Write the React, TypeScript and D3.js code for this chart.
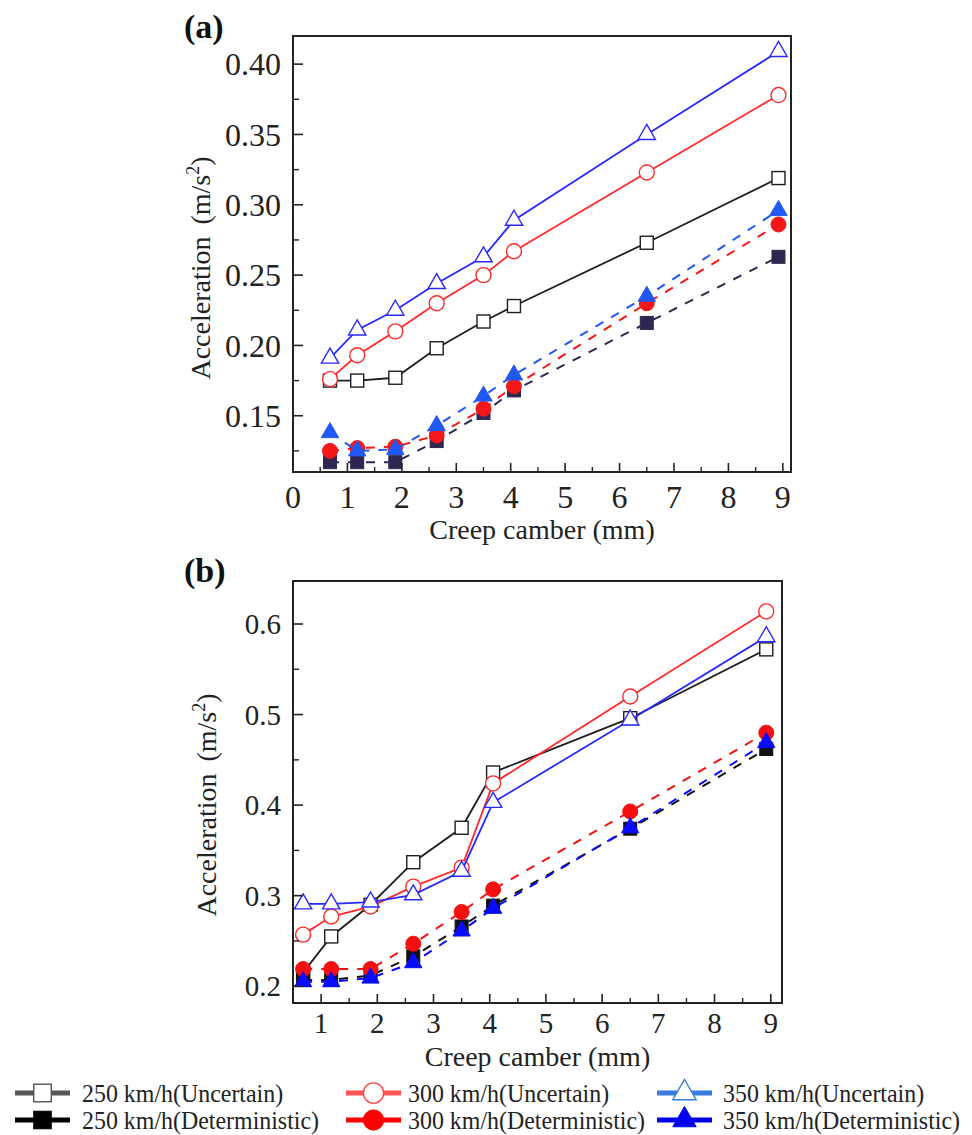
import React from "react";
import * as d3 from "d3";

// creep camber (mm), shared by both panels
const camber = [0.68, 1.18, 1.88, 2.64, 3.5, 4.06, 6.5, 8.92];

// panel (a)
const a250U = [0.175, 0.175, 0.177, 0.198, 0.217, 0.228, 0.273, 0.319];
const a300U = [0.176, 0.193, 0.21, 0.23, 0.25, 0.267, 0.323, 0.378];
const a350U = [0.191, 0.211, 0.225, 0.244, 0.263, 0.289, 0.35, 0.409];
const a250D = [0.117, 0.117, 0.117, 0.132, 0.152, 0.168, 0.216, 0.263];
const a300D = [0.125, 0.127, 0.128, 0.136, 0.155, 0.171, 0.23, 0.286];
const a350D = [0.138, 0.125, 0.126, 0.143, 0.164, 0.179, 0.235, 0.296];

// panel (b)
const b250U = [0.215, 0.255, 0.29, 0.337, 0.375, 0.436, 0.496, 0.572];
const b300U = [0.257, 0.277, 0.288, 0.31, 0.331, 0.424, 0.52, 0.614];
const b350U = [0.291, 0.291, 0.293, 0.301, 0.327, 0.403, 0.494, 0.586];
const b250D = [0.207, 0.207, 0.212, 0.233, 0.266, 0.289, 0.374, 0.462];
const b300D = [0.219, 0.219, 0.219, 0.247, 0.282, 0.307, 0.393, 0.48];
const b350D = [0.205, 0.205, 0.209, 0.226, 0.261, 0.286, 0.375, 0.469];

const aYTicks = [0.15, 0.2, 0.25, 0.3, 0.35, 0.4];
const aYMinor = [0.125, 0.175, 0.225, 0.275, 0.325, 0.375];
const aXTicks = [0, 1, 2, 3, 4, 5, 6, 7, 8, 9];
const bYTicks = [0.2, 0.3, 0.4, 0.5, 0.6];
const bYMinor = [0.25, 0.35, 0.45, 0.55];
const bXTicks = [1, 2, 3, 4, 5, 6, 7, 8, 9];
const xMinorA = [0.5, 1.5, 2.5, 3.5, 4.5, 5.5, 6.5, 7.5, 8.5];
const xMinorB = [1.5, 2.5, 3.5, 4.5, 5.5, 6.5, 7.5, 8.5];

const legendLabels = [
  "250  km/h(Uncertain)",
  "250  km/h(Deterministic)",
  "300  km/h(Uncertain)",
  "300  km/h(Deterministic)",
  "350  km/h(Uncertain)",
  "350  km/h(Deterministic)",
];

const SERIF = "'Liberation Serif', 'Times New Roman', serif";

type Shape = "square" | "circle" | "triangle";
type Series = { values: number[]; shape: Shape; color: string; filled: boolean; dashed: boolean };

function Marker({ shape, x, y, color, filled, s = 1 }: { shape: Shape; x: number; y: number; color: string; filled: boolean; s?: number }) {
  const fill = filled ? color : "white";
  const sw = filled ? 1 : 1.4;
  if (shape === "circle") {
    return <circle cx={x} cy={y} r={7.5 * s} fill={fill} stroke={color} strokeWidth={sw} />;
  }
  if (shape === "square") {
    const h = 6.5 * s;
    return <rect x={x - h} y={y - h} width={2 * h} height={2 * h} fill={fill} stroke={color} strokeWidth={sw} />;
  }
  const p = d3.symbol().type(d3.symbolTriangle).size(130 * s * s)();
  return <path d={p as string} transform={`translate(${x},${y})`} fill={fill} stroke={color} strokeWidth={sw} />;
}

function Panel(props: {
  tag: string; tagY: number;
  xDomain: [number, number]; xRange: [number, number];
  yDomain: [number, number]; yRange: [number, number];
  xTicks: number[]; xMinor: number[]; yTicks: number[]; yMinor: number[];
  fmt: (v: number) => string; font: number; xTickBase: number;
  xTitleBase: number; yTitleX: number; yTitleY: number;
  series: Series[];
}) {
  const x = d3.scaleLinear().domain(props.xDomain).range(props.xRange);
  const y = d3.scaleLinear().domain(props.yDomain).range(props.yRange);
  const [x0, x1] = props.xRange;
  const [yb, yt] = props.yRange;
  const line = d3.line<number>().x((_, i) => x(camber[i])).y((d) => y(d));
  const axis = "#222";
  return (
    <g fontFamily={SERIF}>
      <text x={184} y={props.tagY} fontSize={34} fontWeight="bold" fill="#111">{props.tag}</text>
      {props.series.map((s, k) => (
        <g key={k}>
          <path d={line(s.values) as string} fill="none" stroke={s.color}
            strokeWidth={s.dashed ? 2 : 1.8} strokeDasharray={s.dashed ? "9,9" : undefined} />
          {s.values.map((v, i) => (
            <Marker key={i} shape={s.shape} x={x(camber[i])} y={y(v)} color={s.color} filled={s.filled} />
          ))}
        </g>
      ))}
      <rect x={x0} y={yt} width={x1 - x0} height={yb - yt} fill="none" stroke={axis} strokeWidth={2} />
      {props.yTicks.map((t) => (
        <g key={t}>
          <line x1={x0} x2={x0 + 10} y1={y(t)} y2={y(t)} stroke={axis} strokeWidth={1.6} />
          <text x={x0 - 12} y={y(t)} dy="0.35em" textAnchor="end" fontSize={props.font} fill="#222">{props.fmt(t)}</text>
        </g>
      ))}
      {props.yMinor.map((t) => (
        <line key={t} x1={x0} x2={x0 + 6} y1={y(t)} y2={y(t)} stroke={axis} strokeWidth={1.4} />
      ))}
      {props.xTicks.map((t) => (
        <g key={t}>
          <line x1={x(t)} x2={x(t)} y1={yb} y2={yb - 9} stroke={axis} strokeWidth={1.6} />
          <text x={x(t)} y={props.xTickBase} textAnchor="middle" fontSize={props.font} fill="#222">{t}</text>
        </g>
      ))}
      {props.xMinor.map((t) => (
        <line key={t} x1={x(t)} x2={x(t)} y1={yb} y2={yb - 5} stroke={axis} strokeWidth={1.4} />
      ))}
      <text x={(x0 + x1) / 2} y={props.xTitleBase} textAnchor="middle" fontSize={28} fill="#222">Creep camber (mm)</text>
      <text transform={`translate(${props.yTitleX},${props.yTitleY}) rotate(-90)`} textAnchor="middle" fontSize={28} fill="#222">
        Acceleration<tspan dx={12}>(m/s</tspan><tspan fontSize={18} dy={-11}>2</tspan><tspan dy={11}>)</tspan>
      </text>
    </g>
  );
}

export default function App() {
  const seriesA: Series[] = [
    { values: a250U, shape: "square", color: "#1e1e1e", filled: false, dashed: false },
    { values: a300U, shape: "circle", color: "#ff2a2a", filled: false, dashed: false },
    { values: a350U, shape: "triangle", color: "#2a2aff", filled: false, dashed: false },
    { values: a250D, shape: "square", color: "#2f2752", filled: true, dashed: true },
    { values: a300D, shape: "circle", color: "#f41818", filled: true, dashed: true },
    { values: a350D, shape: "triangle", color: "#2158f5", filled: true, dashed: true },
  ];
  const seriesB: Series[] = [
    { values: b250U, shape: "square", color: "#1e1e1e", filled: false, dashed: false },
    { values: b300U, shape: "circle", color: "#ff2a2a", filled: false, dashed: false },
    { values: b350U, shape: "triangle", color: "#2a2aff", filled: false, dashed: false },
    { values: b250D, shape: "square", color: "#111", filled: true, dashed: true },
    { values: b300D, shape: "circle", color: "#f41010", filled: true, dashed: true },
    { values: b350D, shape: "triangle", color: "#0a0aff", filled: true, dashed: true },
  ];

  const legendItems = [
    { shape: "square" as Shape, line: "#555", stroke: "#555", filled: false, sx: 15, tx: 82, row: 0 },
    { shape: "square" as Shape, line: "#000", stroke: "#000", filled: true, sx: 15, tx: 82, row: 1 },
    { shape: "circle" as Shape, line: "#f55", stroke: "#f44", filled: false, sx: 346, tx: 408, row: 0 },
    { shape: "circle" as Shape, line: "#f00", stroke: "#f00", filled: true, sx: 346, tx: 408, row: 1 },
    { shape: "triangle" as Shape, line: "#3a7be0", stroke: "#3a7be0", filled: false, sx: 657, tx: 723, row: 0 },
    { shape: "triangle" as Shape, line: "#0000ee", stroke: "#0000ee", filled: true, sx: 657, tx: 723, row: 1 },
  ];
  const rowY = [1093, 1120];

  return (
    <svg width={972} height={1135} style={{ position: "absolute", left: 0, top: 0, background: "white" }}>
      <rect width={972} height={1135} fill="white" />
      <Panel tag="(a)" tagY={38}
        xDomain={[0, 9.15]} xRange={[293, 791]}
        yDomain={[0.11, 0.42]} yRange={[472, 36]}
        xTicks={aXTicks} xMinor={xMinorA} yTicks={aYTicks} yMinor={aYMinor}
        fmt={d3.format(".2f")} font={32} xTickBase={508}
        xTitleBase={539} yTitleX={210} yTitleY={268}
        series={seriesA} />
      <Panel tag="(b)" tagY={582}
        xDomain={[0.5, 9.2]} xRange={[293, 782]}
        yDomain={[0.1815, 0.6475]} yRange={[1003, 581]}
        xTicks={bXTicks} xMinor={xMinorB} yTicks={bYTicks} yMinor={bYMinor}
        fmt={d3.format(".1f")} font={29} xTickBase={1033}
        xTitleBase={1066} yTitleX={216} yTitleY={805}
        series={seriesB} />
      <g fontFamily={SERIF}>
        {legendItems.map((it, i) => {
          const cy = rowY[it.row];
          return (
            <g key={i}>
              <line x1={it.sx} x2={it.sx + 55} y1={cy} y2={cy} stroke={it.line} strokeWidth={5} />
              <Marker shape={it.shape} x={it.sx + 27.5} y={cy} color={it.stroke} filled={it.filled} s={1.35} />
              <text transform={`translate(${it.tx},${cy + 9}) scale(0.92,1)`} fontSize={26} fill="#222">{legendLabels[i]}</text>
            </g>
          );
        })}
      </g>
    </svg>
  );
}
